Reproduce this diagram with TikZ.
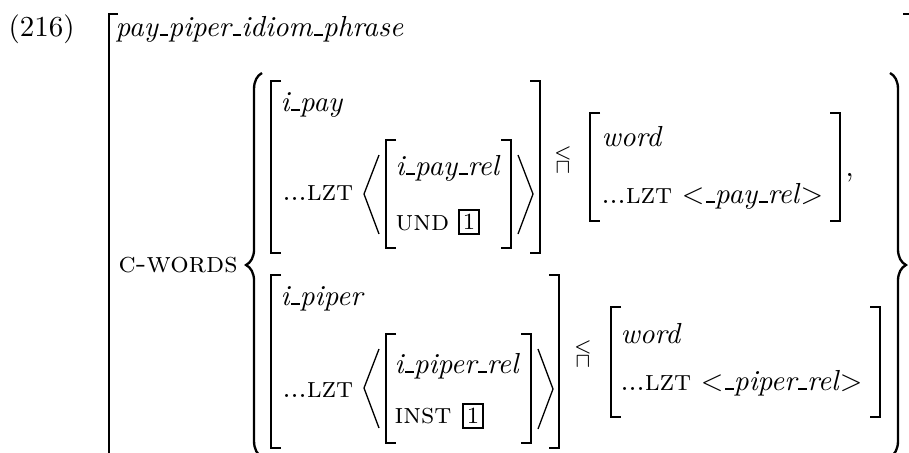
\documentclass[tikz,border=0pt]{standalone}
\usepackage{amsmath, amssymb}
\usepackage{tikz}
\usetikzlibrary{decorations.pathreplacing}

% short underscore bar used in the type names
\newcommand{\us}{\kern.06em\vbox{\hrule width .3em height .7pt}}

\begin{document}
\begin{tikzpicture}[x=0.345pt, y=-0.345pt,
    every node/.style={inner sep=0pt, anchor=base west},
    brk/.style={line width=0.5pt},
    ang/.style={line width=0.45pt},
    brc/.style={line width=0.8pt, decorate, decoration={brace, amplitude=5.5pt}},
    tag/.style={draw, line width=0.6pt, inner sep=1.4pt, anchor=center, font=\footnotesize},
    meet/.style={anchor=center, font=\scriptsize}]
  \useasboundingbox (0,0) rectangle (909,452);
  \clip (0,0) rectangle (909,452);

  % outer matrix
  \node (num) at (8,36) {(216)};
  \draw[brk] (118,14) -- (109,14) -- (109,470);
  \draw[brk] (903,14) -- (910,14) -- (910,470);
  \node (type) at (115,36) {\textit{pay\us piper\us idiom\us phrase}};
  \node (cw) at (118,272) {\textsc{c-words}};
  \draw[brc] (262,457) -- (262,73);
  \draw[brc] (890,73) -- (890,457);

  % first member: i_pay
  \draw[brk] (281,81) -- (271,81) -- (271,253) -- (281,253);
  \draw[brk] (530,81) -- (540,81) -- (540,253) -- (530,253);
  \node (ipay) at (280,111) {\textit{i\us pay}};
  \node (lzta) at (282,200) {...\textsc{lzt}};
  \draw[ang] (379,155) -- (364,194) -- (379,234);
  \draw[brk] (396,140) -- (386,140) -- (386,248) -- (396,248);
  \node (rela) at (395,175) {\textit{i\us pay\us rel}};
  \node (und) at (395,230) {\textsc{und}};
  \node[tag] (taga) at (469,222) {1};
  \draw[brk] (501,140) -- (511,140) -- (511,248) -- (501,248);
  \draw[ang] (518,155) -- (533,194) -- (518,234);
  \node[meet] (meeta) at (563,159) {$\stackrel{\textstyle<}{\sqcap}$};
  \draw[brk] (600,113) -- (590,113) -- (590,221) -- (600,221);
  \node (worda) at (601,146) {\textit{word}};
  \node (lzwa) at (601,203) {...\textsc{lzt} $<$\textit{\us pay\us rel}$>$};
  \draw[brk] (830,113) -- (840,113) -- (840,221) -- (830,221);
  \node (comma) at (845,176) {,};

  % second member: i_piper
  \draw[brk] (281,275) -- (271,275) -- (271,448) -- (281,448);
  \draw[brk] (549,275) -- (559,275) -- (559,448) -- (549,448);
  \node (ipiper) at (280,305) {\textit{i\us piper}};
  \node (lztb) at (282,397) {...\textsc{lzt}};
  \draw[ang] (379,349) -- (364,388) -- (379,428);
  \draw[brk] (396,334) -- (386,334) -- (386,443) -- (396,443);
  \node (relb) at (394,373) {\textit{i\us piper\us rel}};
  \node (inst) at (394,423) {\textsc{inst}};
  \node[tag] (tagb) at (473,416) {1};
  \draw[brk] (521,334) -- (531,334) -- (531,443) -- (521,443);
  \draw[ang] (538,349) -- (553,389) -- (538,429);
  \node[meet] (meetb) at (583,353) {$\stackrel{\textstyle<}{\sqcap}$};
  \draw[brk] (621,307) -- (611,307) -- (611,417) -- (621,417);
  \node (wordb) at (620,343) {\textit{word}};
  \node (lzwb) at (620,390) {...\textsc{lzt} $<$\textit{\us piper\us rel}$>$};
  \draw[brk] (870,307) -- (880,307) -- (880,417) -- (870,417);
\end{tikzpicture}
\end{document}
